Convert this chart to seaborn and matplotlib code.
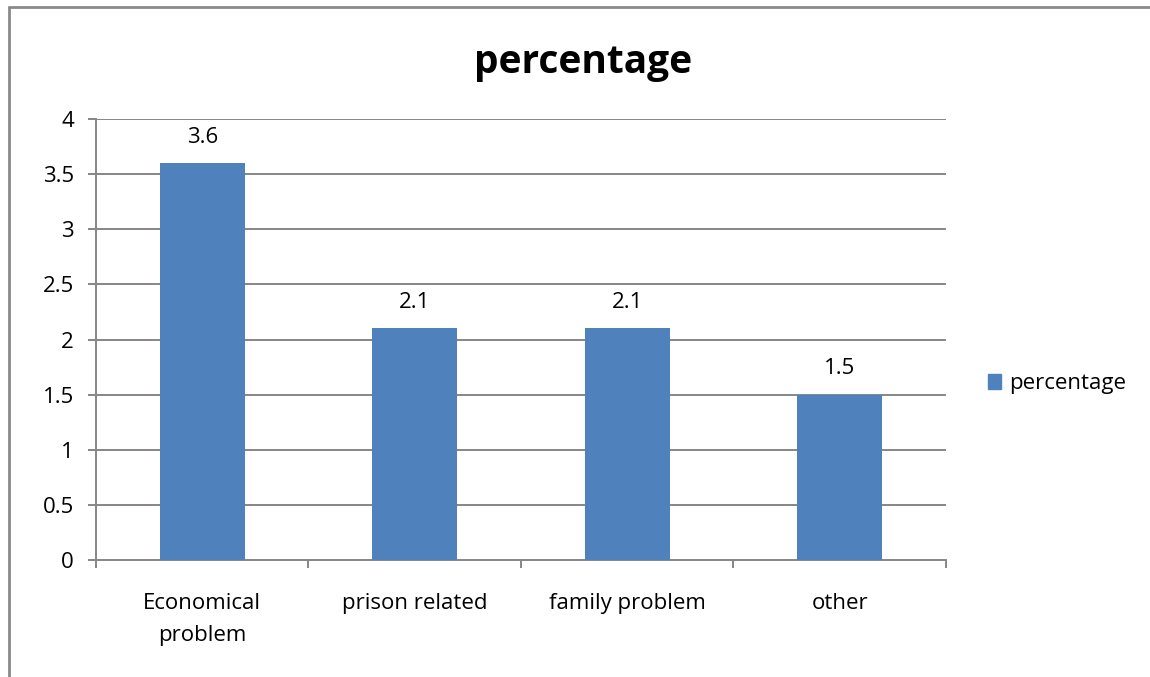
import matplotlib
matplotlib.use("Agg")
import matplotlib.pyplot as plt
from matplotlib.lines import Line2D
import seaborn as sns
import pandas as pd

categories = ["Economical\nproblem", "prison related", "family problem", "other"]
values = [3.6, 2.1, 2.1, 1.5]
series_name = "percentage"
y_ticks = [0, 0.5, 1, 1.5, 2, 2.5, 3, 3.5, 4]
y_tick_labels = ["0", "0.5", "1", "1.5", "2", "2.5", "3", "3.5", "4"]

sns.set_theme(style="white")
plt.rcParams["font.family"] = ["Open Sans", "DejaVu Sans"]
plt.rcParams["text.color"] = "black"
plt.rcParams["xtick.color"] = "black"
plt.rcParams["ytick.color"] = "black"

bar_color = "#4F81BD"
grid_color = "#868686"
fs = 16

df = pd.DataFrame({"category": categories, "value": values, "series": series_name})

fig = plt.figure(figsize=(11.5, 6.77), dpi=100)
ax = fig.add_axes([0.0835, 0.1728, 0.739, 0.6514])

sns.barplot(data=df, x="category", y="value", hue="series", palette=[bar_color],
            width=0.4, saturation=1, ax=ax, legend=False, zorder=3, linewidth=0)

ax.set_xlim(-0.5, len(categories) - 0.5)
ax.set_ylim(0, 4)
ax.set_yticks(y_ticks)
ax.set_yticklabels(y_tick_labels)
ax.set_xlabel("")
ax.set_ylabel("")

for y in y_ticks[1:]:
    ax.axhline(y, color=grid_color, lw=1.4, zorder=1)

for s in ["top", "right"]:
    ax.spines[s].set_visible(False)
for s in ["left", "bottom"]:
    ax.spines[s].set_color(grid_color)
    ax.spines[s].set_linewidth(1.4)

ax.tick_params(axis="y", length=6, width=1.4, color=grid_color, labelsize=fs,
               labelcolor="black", pad=10, left=True)
ax.tick_params(axis="x", which="major", length=0, labelsize=fs, labelcolor="black", pad=24)
ax.set_xticks([i - 0.5 for i in range(len(categories) + 1)], minor=True)
ax.tick_params(axis="x", which="minor", length=6, width=1.4, color=grid_color, bottom=True)
for lbl in ax.get_xticklabels():
    lbl.set_linespacing(1.65)

for i, v in enumerate(values):
    ax.annotate(f"{v}", (i, v), xytext=(0, 11), textcoords="offset points",
                ha="center", va="bottom", fontsize=fs, color="black")

fig.text(0.507, 0.908, "percentage", ha="center", va="center", fontsize=28,
         fontweight="bold", color="black")

handle = plt.Rectangle((0, 0), 1, 1, color=bar_color)
leg = fig.legend([handle], [series_name], loc="center left", bbox_to_anchor=(0.859, 0.433),
                 frameon=False, fontsize=fs, handlelength=0.6, handleheight=0.6,
                 handletextpad=0.35, borderaxespad=0, borderpad=0)
for t in leg.get_texts():
    t.set_color("black")

# outer chart frame (left and top edges)
fig.add_artist(Line2D([0.0075, 0.0075], [0, 0.989], color="#8a8a8a", lw=2, transform=fig.transFigure))
fig.add_artist(Line2D([0.0075, 1.0], [0.989, 0.989], color="#8a8a8a", lw=2, transform=fig.transFigure))

fig.savefig("out.png", dpi=100)
